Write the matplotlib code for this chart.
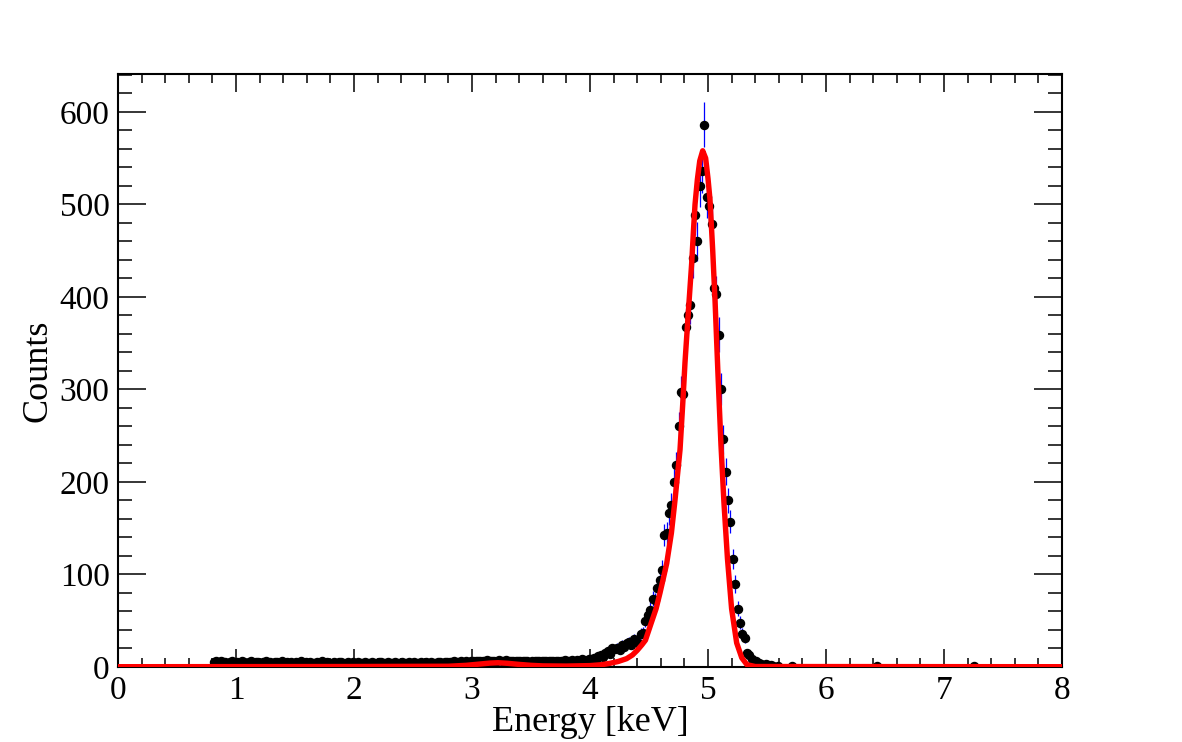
import numpy as np
import matplotlib
matplotlib.use("Agg")
import matplotlib.pyplot as plt
from matplotlib.ticker import MultipleLocator

# ---------------- data ----------------
bin_width = 0.02
x_min, x_max = 0.0, 8.0

# counts for bins 0.00-0.80 keV (empty)
counts_0_08 = [0] * 40
# 0.80 - 4.00 keV
counts_08_40 = [
    5, 6, 4, 6, 5, 5, 4, 5, 6, 4, 5, 4, 6, 5, 4, 5, 6, 4, 5, 5,
    4, 5, 6, 4, 5, 4, 5, 5, 4, 6, 4, 5, 4, 5, 4, 5, 4, 6, 4, 5,
    4, 5, 4, 4, 5, 4, 6, 4, 5, 4, 4, 5, 4, 5, 5, 4, 4, 5, 4, 5,
    4, 5, 4, 4, 5, 4, 4, 5, 4, 4, 5, 5, 4, 4, 5, 4, 4, 5, 4, 4,
    5, 4, 4, 5, 4, 5, 4, 4, 5, 4, 5, 4, 5, 4, 4, 5, 5, 4, 5, 5,
    5, 5, 6, 5, 5, 6, 5, 6, 5, 6, 7, 6, 6, 7, 6, 7, 8, 7, 7, 6,
    7, 8, 7, 7, 8, 6, 7, 7, 6, 7, 6, 6, 7, 6, 5, 6, 6, 7, 6, 6,
    6, 7, 6, 6, 7, 6, 7, 7, 6, 8, 7, 7, 8, 7, 8, 7, 9, 8, 7, 9,
]
# 4.00 - 5.00 keV
counts_40_50 = [
    9, 10, 8, 12, 13, 11, 15, 17, 14, 20,
    19, 21, 18, 24, 22, 26, 27, 24, 30, 28,
    26, 36, 37, 50, 56, 62, 74, 72, 85, 94,
    105, 143, 145, 166, 175, 200, 218, 260, 297, 295,
    368, 380, 391, 442, 489, 460, 520, 536, 586, 508,
]
# 5.00 - 6.00 keV
counts_50_60 = [
    498, 479, 410, 403, 359, 300, 246, 211, 180, 157,
    117, 90, 63, 48, 36, 31, 15, 13, 9, 6,
    6, 4, 3, 2, 3, 2, 2, 1, 0, 1,
    0, 0, 0, 0, 0, 1, 0, 0, 0, 0,
    0, 0, 0, 0, 0, 0, 0, 0, 0, 0,
]
# 6.00 - 8.00 keV
counts_60_80 = [0] * 100
counts_60_80[21] = 1   # ~6.43 keV
counts_60_80[62] = 1   # ~7.25 keV

counts = np.array(counts_0_08 + counts_08_40 + counts_40_50 + counts_50_60 + counts_60_80, dtype=float)
centers = x_min + bin_width * (np.arange(len(counts)) + 0.5)

# fitted curve
fit_energy = [0.0, 2.0, 2.8, 2.95, 3.05, 3.15, 3.22, 3.3, 3.4, 3.5, 3.6, 3.8,
              4.0, 4.1, 4.17, 4.24, 4.31, 4.36, 4.40, 4.44, 4.47, 4.52, 4.56,
              4.593, 4.62, 4.65, 4.69, 4.72, 4.763, 4.788, 4.805, 4.833, 4.862,
              4.876, 4.89, 4.91, 4.93, 4.955, 4.98, 5.0, 5.017, 5.04, 5.06,
              5.085, 5.11, 5.135, 5.165, 5.2, 5.243, 5.286, 5.33, 5.4, 8.0]
fit_counts = [0.3, 0.5, 0.8, 1.8, 3.0, 4.2, 4.6, 4.0, 2.8, 1.8, 1.2, 1.0,
              1.5, 2.5, 4.0, 6.0, 9.0, 13.0, 18.0, 24.0, 29.0, 48.0, 63.0,
              80.0, 95.0, 112.0, 145.0, 180.0, 235.0, 289.0, 329.0, 383.0, 437.0,
              470.0, 500.0, 527.0, 547.0, 558.0, 550.0, 528.0, 505.0, 450.0, 395.0,
              315.0, 240.0, 178.0, 117.0, 63.0, 26.0, 10.0, 2.5, 0.5, 0.3]

x_ticks = [0, 1, 2, 3, 4, 5, 6, 7, 8]
y_ticks = [0, 100, 200, 300, 400, 500, 600]
y_max = 641

# ---------------- figure ----------------
plt.rcParams['font.family'] = ['Liberation Serif', 'DejaVu Serif']
fig = plt.figure(figsize=(11.82, 7.42), dpi=100)
ax = fig.add_axes([118 / 1182, 75 / 742, 944 / 1182, 593 / 742])

mask = counts > 0
ax.errorbar(centers[mask], counts[mask], yerr=np.sqrt(counts[mask]),
            fmt='o', color='black', ms=5.8, ecolor='blue', elinewidth=0.9,
            capsize=0, zorder=3)
ax.plot(fit_energy, fit_counts, color='red', lw=3.9, zorder=4,
        solid_joinstyle='round')

ax.set_xlim(x_min, x_max)
ax.set_ylim(0, y_max)
ax.set_xticks(x_ticks)
ax.set_yticks(y_ticks)
ax.xaxis.set_minor_locator(MultipleLocator(0.2))
ax.yaxis.set_minor_locator(MultipleLocator(20))

ax.tick_params(which='both', direction='in', top=True, right=True,
               width=1.1, labelsize=24)
ax.tick_params(axis='x', which='major', length=13, pad=6)
ax.tick_params(axis='x', which='minor', length=6.5)
ax.tick_params(axis='y', which='major', length=20, pad=6)
ax.tick_params(axis='y', which='minor', length=10)
for s in ax.spines.values():
    s.set_linewidth(1.5)

ax.set_xlabel('Energy [keV]', fontsize=26, labelpad=0)
ax.set_ylabel('Counts', fontsize=26, labelpad=4)

fig.savefig('out.png', dpi=100)
